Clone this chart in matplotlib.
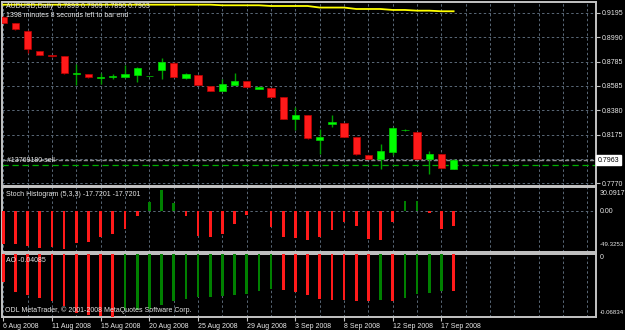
"""
audusd_chart.py

Redraws a MetaTrader daily AUDUSD chart with its Stoch Histogram and AO sub-windows.
"""

import matplotlib
matplotlib.use("Agg")
import matplotlib.pyplot as plt
import numpy as np

# daily candles, 6 Aug 2008 .. 18 Sep 2008 (MetaTrader includes the Sunday bars)
opens = [0.9157, 0.9106, 0.9045, 0.8873, 0.8842, 0.8831, 0.8680, 0.8680, 0.8652, 0.8661,
         0.8660, 0.8675, 0.8666, 0.8716, 0.8777, 0.8647, 0.8672, 0.8583, 0.8541, 0.8591,
         0.8624, 0.8560, 0.8566, 0.8488, 0.8304, 0.8338, 0.8134, 0.8268, 0.8274, 0.8157,
         0.8006, 0.7970, 0.8031, 0.8212, 0.8198, 0.7973, 0.8012, 0.7893]
highs = [0.9165, 0.9110, 0.9050, 0.8878, 0.8845, 0.8835, 0.8766, 0.8684, 0.8689, 0.8683,
         0.8756, 0.8741, 0.8667, 0.8814, 0.8780, 0.8689, 0.8675, 0.8586, 0.8639, 0.8694,
         0.8627, 0.8585, 0.8569, 0.8491, 0.8405, 0.8341, 0.8221, 0.8340, 0.8277, 0.8160,
         0.8009, 0.8096, 0.8237, 0.8220, 0.8201, 0.8037, 0.8015, 0.7969]
lows = [0.9105, 0.9050, 0.8861, 0.8840, 0.8829, 0.8686, 0.8589, 0.8652, 0.8599, 0.8644,
        0.8652, 0.8616, 0.8665, 0.8641, 0.8657, 0.8641, 0.8588, 0.8540, 0.8538, 0.8588,
        0.8574, 0.8555, 0.8490, 0.8307, 0.8215, 0.8143, 0.8015, 0.8238, 0.8154, 0.8009,
        0.7970, 0.7892, 0.8004, 0.8208, 0.7970, 0.7848, 0.7897, 0.7890]
closes = [0.9111, 0.9056, 0.8894, 0.8844, 0.8831, 0.8689, 0.8689, 0.8655, 0.8660, 0.8668,
          0.8680, 0.8731, 0.8666, 0.8786, 0.8660, 0.8680, 0.8591, 0.8543, 0.8599, 0.8624,
          0.8577, 0.8572, 0.8493, 0.8310, 0.8340, 0.8146, 0.8157, 0.8284, 0.8157, 0.8012,
          0.7973, 0.8037, 0.8234, 0.8216, 0.7973, 0.8017, 0.7900, 0.7963]

# yellow line near the top of the price window
yellow_line = [0.9262] * 18 + [0.9257] * 4 + [0.9251] * 4 + [0.9238] * 3 + \
              [0.9226] * 3 + [0.9218] * 2 + [0.9212] * 2 + [0.9207] * 2

stoch_hist = [-40.6, -40.2, -42.6, -45.0, -44.3, -45.9, -39.3, -37.4, -31.2, -27.8,
              -21.8, -5.4, 11.1, 26.4, 10.3, -5.4, -30.2, -31.5, -27.3, -14.9,
              -4.2, 0.8, -19.1, -31.5, -33.1, -35.6, -31.0, -22.8, -13.6, -17.8,
              -33.5, -35.2, -12.4, 12.4, 12.4, -2.1, -22.0, -17.7201]

ao_values = [-0.0312, -0.0410, -0.0447, -0.0475, -0.0512, -0.0562, -0.0640, -0.0660, -0.0672, -0.0683,
             -0.0610, -0.0605, -0.0598, -0.0555, -0.0515, -0.0492, -0.0472, -0.0468, -0.0458, -0.0450,
             -0.0432, -0.0408, -0.0385, -0.0390, -0.0418, -0.0447, -0.0493, -0.0500, -0.0504, -0.0508,
             -0.0513, -0.0505, -0.0508, -0.0475, -0.0436, -0.0420, -0.0402, -0.04085]

date_bars = [0, 4, 8, 12, 16, 20, 24, 28, 32, 36]
date_labels = ["6 Aug 2008", "11 Aug 2008", "15 Aug 2008", "20 Aug 2008", "25 Aug 2008",
               "29 Aug 2008", "3 Sep 2008", "8 Sep 2008", "12 Sep 2008", "17 Sep 2008"]

price_levels = [0.9195, 0.8990, 0.8785, 0.8585, 0.8380, 0.8175, 0.7770]
price_labels = ["0.9195", "0.8990", "0.8785", "0.8585", "0.8380", "0.8175", "0.7770"]
bid_price = 0.7963
order_price = 0.7922

W, H = 625, 330
GRID = "#5a6978"
FRAME = "#c4c4c4"
TEXT = "#e8e8e8"


def px_rect(left, top, right, bottom):
    """Axes rectangle in figure fractions from pixel edges."""
    return [left / W, 1 - bottom / H, (right - left) / W, (bottom - top) / H]


def draw_grid(ax, levels):
    for k in range(0, 50, 2):
        ax.axvline(k, color=GRID, lw=0.7, ls=(0, (2.5, 2.5)), zorder=0)
    for v in levels:
        ax.axhline(v, color=GRID, lw=0.7, ls=(0, (2.5, 2.5)), zorder=0)


def style_panel(ax):
    ax.set_facecolor("black")
    ax.set_xlim(-0.107, 48.7)
    for s in ax.spines.values():
        s.set_color(FRAME)
        s.set_linewidth(1.4)
    ax.tick_params(left=False, labelleft=False, bottom=False, labelbottom=False)


def draw_candles(ax):
    o, h, l, c = map(np.array, (opens, highs, lows, closes))
    x = np.arange(len(o))
    up = c >= o
    ax.vlines(x, l, h, colors=np.where(up, "#00a000", "#b00000"), lw=1.0, zorder=3)
    ax.bar(x, np.maximum(np.abs(c - o), 0.0003), bottom=np.minimum(o, c), width=0.6,
           color=np.where(up, "#00ff00", "#ff1a1a"),
           edgecolor=np.where(up, "#00d000", "#c00000"), lw=0.5, zorder=4)
    ax.plot(x, yellow_line, color="#ffff00", lw=1.3, zorder=5)


def side_labels(ax, items):
    # MetaTrader writes the scale values just right of the window frame
    for v, lab, size in items:
        ax.text(1.006, v, lab, transform=ax.get_yaxis_transform(), fontsize=size,
                color=TEXT, va="center", ha="left", clip_on=False)


def main():
    plt.rcParams["font.family"] = ["Liberation Sans", "DejaVu Sans"]
    fig = plt.figure(figsize=(W / 100, H / 100), dpi=100, facecolor="black")

    # price window
    ax = fig.add_axes(px_rect(2, 2, 596, 185.5))
    style_panel(ax)
    ax.set_ylim(0.77516, 0.92844)
    draw_grid(ax, price_levels + [0.7970])
    draw_candles(ax)
    ax.axhline(bid_price, color="#8c8c8c", lw=1.0, ls=(0, (3, 1.5)), zorder=2)
    ax.axhline(order_price, color="#00b000", lw=0.9, ls=(0, (5, 3)), zorder=2)
    ax.yaxis.tick_right()
    ax.set_yticks(price_levels)
    ax.set_yticklabels(price_labels)
    ax.tick_params(axis="y", right=True, labelright=True, length=3, width=0.8,
                   color=FRAME, labelsize=5, labelcolor=TEXT, pad=1.5)
    ax.text(1.003, bid_price, "0.7963", transform=ax.get_yaxis_transform(), fontsize=5,
            color="black", va="center", ha="left", clip_on=False,
            bbox=dict(boxstyle="square,pad=0.25", fc="white", ec="white"))

    # Stoch Histogram window
    ax_st = fig.add_axes(px_rect(2, 187, 596, 251.5))
    style_panel(ax_st)
    ax_st.set_ylim(-49.3253, 30.0917)
    draw_grid(ax_st, [0])
    st = np.array(stoch_hist)
    ax_st.bar(np.arange(len(st)), st, width=0.22,
              color=np.where(st >= 0, "#008000", "#ff1a1a"), zorder=3)
    side_labels(ax_st, [(21.5, "30.0917", 5), (0, "0.00", 5), (-40.1, "-49.3253", 4.4)])

    # AO window
    ax_ao = fig.add_axes(px_rect(2, 253.5, 596, 317))
    style_panel(ax_ao)
    ax_ao.set_ylim(-0.06834, 0)
    draw_grid(ax_ao, [])
    ao = np.array(ao_values)
    prev = np.concatenate([[ao[0] + 0.001], ao[:-1]])
    ax_ao.bar(np.arange(len(ao)), ao, width=0.22,
              color=np.where(ao > prev, "#008000", "#ff1a1a"), zorder=3)
    side_labels(ax_ao, [(-0.00484, "0", 5), (-0.0640, "-0.06834", 4.4)])
    ax_ao.set_xticks(date_bars)
    ax_ao.set_xticklabels(date_labels, ha="left")
    ax_ao.tick_params(axis="x", bottom=True, labelbottom=True, length=3, width=0.8,
                      color=FRAME, labelsize=5, labelcolor=TEXT, pad=1)

    # window captions
    def caption(x, y, s):
        fig.text(x / W, 1 - y / H, s, fontsize=5, color=TEXT, va="center", ha="left", zorder=10)

    caption(6, 7, "AUDUSD,Daily  0.7893 0.7969 0.7890 0.7963")
    caption(6, 15.5, "1398 minutes 8 seconds left to bar end")
    caption(7, 160.5, "#13769180 sell")
    caption(6, 194.5, "Stoch Histogram (5,3,3) -17.7201 -17.7201")
    caption(6, 260.5, "AO -0.04085")
    caption(5, 310.5, "ODL MetaTrader, \u00a9 2001-2008 MetaQuotes Software Corp.")

    fig.savefig("out.png", dpi=100, facecolor="black")


if __name__ == "__main__":
    main()
